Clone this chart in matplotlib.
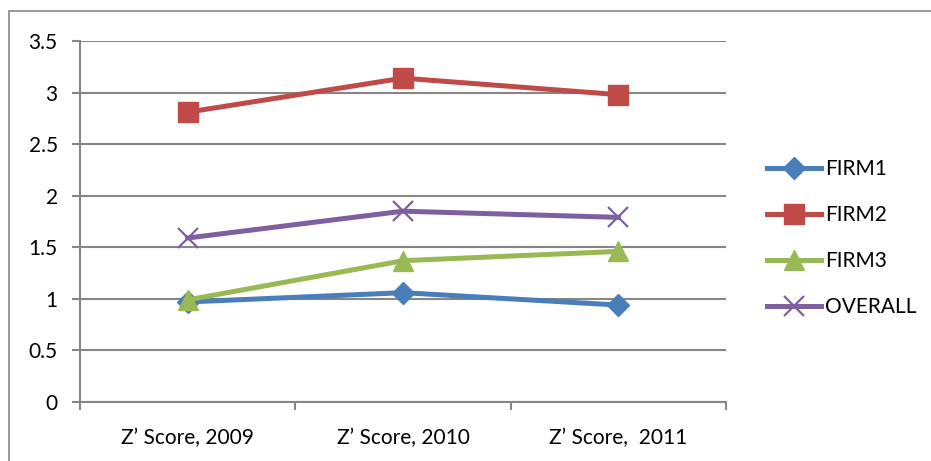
import matplotlib.pyplot as plt
from matplotlib.patches import Rectangle

categories = ["Z\u2019 Score, 2009", "Z\u2019 Score, 2010", "Z\u2019 Score,  2011"]
firm1 = [0.97, 1.06, 0.94]
firm2 = [2.81, 3.14, 2.98]
firm3 = [0.99, 1.37, 1.46]
overall = [1.59, 1.85, 1.79]
yticks = [0, 0.5, 1, 1.5, 2, 2.5, 3, 3.5]
ytick_labels = ["0", "0.5", "1", "1.5", "2", "2.5", "3", "3.5"]

plt.rcParams['font.family'] = ['Lato', 'DejaVu Sans']
grey = '#868686'
fs = 15

fig = plt.figure(figsize=(9.31, 4.61), dpi=100)
ax = fig.add_axes([80 / 931, 1 - 402 / 461, 646 / 931, 361 / 461])

# chart border
fig.patches.append(Rectangle((9 / 931, -0.05), 1.0, 1 - 11 / 461 + 0.05,
                             transform=fig.transFigure, fill=False,
                             edgecolor=grey, linewidth=1.2))

x = list(range(len(categories)))
lw = 3.6
ax.plot(x, firm1, color='#4A7EBB', lw=lw, marker='D', ms=11, label='FIRM1', zorder=3)
ax.plot(x, firm2, color='#BE4B48', lw=lw, marker='s', ms=14, label='FIRM2', zorder=3)
ax.plot(x, firm3, color='#98B954', lw=lw, marker='^', ms=15, label='FIRM3', zorder=3)
ax.plot(x, overall, color='#7D60A0', lw=lw, marker='x', ms=14, mew=1.6, label='OVERALL', zorder=3)

ax.set_xlim(-0.5, 2.5)
ax.set_ylim(0, 3.5)
ax.set_yticks(yticks)
ax.set_yticklabels(ytick_labels, fontsize=fs)
ax.set_xticks(x)
ax.set_xticklabels(categories, fontsize=fs)
ax.set_xticks([-0.5, 0.5, 1.5, 2.5], minor=True)
ax.tick_params(axis='x', which='major', length=0, pad=19)
ax.tick_params(axis='x', which='minor', length=6, width=1.5, color=grey, direction='out')
ax.tick_params(axis='y', length=6, width=1.5, color=grey, direction='out', pad=10)
ax.grid(axis='y', color=grey, linewidth=1.5)
ax.set_axisbelow(True)
for side in ['top', 'right']:
    ax.spines[side].set_visible(False)
for side in ['left', 'bottom']:
    ax.spines[side].set_color(grey)
    ax.spines[side].set_linewidth(1.5)

fig.legend(loc='center left', bbox_to_anchor=(748 / 931, 1 - 238 / 461), frameon=False,
           fontsize=fs, handlelength=2.6, handletextpad=0.2, labelspacing=1.25, numpoints=1)

fig.savefig('out.png', dpi=100)
